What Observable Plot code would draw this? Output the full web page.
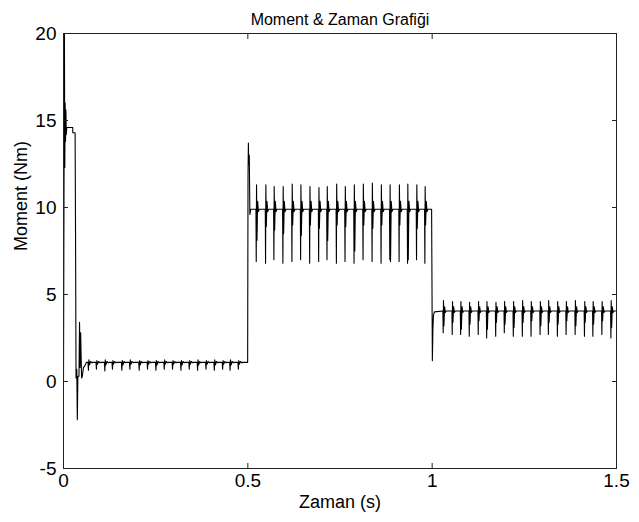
<!DOCTYPE html>
<html><head><meta charset="utf-8">
<script src="https://cdn.jsdelivr.net/npm/d3@7"></script>
<script src="https://cdn.jsdelivr.net/npm/@observablehq/plot@0.6"></script>
<style>body{margin:0;background:#fff;}</style>
</head><body><div id="chart"></div>
<script>
const title = "Moment & Zaman Grafiği";
const xLabel = "Zaman (s)";
const yLabel = "Moment (Nm)";
const xTicks = [0, 0.5, 1, 1.5];
const yTicks = [-5, 0, 5, 10, 15, 20];

// start-up transient
const startT = [0, 0.0025, 0.0035, 0.0045, 0.0055, 0.0065, 0.0075, 0.0090, 0.0250, 0.0252, 0.0315, 0.0328, 0.0340, 0.0360, 0.0375, 0.0390, 0.0420, 0.0435, 0.0450, 0.0465, 0.0490, 0.0510, 0.0540, 0.0580, 0.0620, 0.0660];
const startV = [0, 20, 12.3, 16.0, 13.8, 15.6, 14.2, 14.6, 14.6, 14.3, 14.3, 7.8, 0.2, 0.7, -2.2, 0.3, 0.3, 3.4, 0.8, 2.8, 0.2, 0.3, 0.8, 0.9, 1.1, 1.1];

// phase 1 (light load)
const level1 = 1.1;
const p1Times = [0.0688, 0.0905, 0.1133, 0.1340, 0.1595, 0.1813, 0.2065, 0.2291, 0.2519, 0.2745, 0.2970, 0.3198, 0.3424, 0.3649, 0.3877, 0.4103, 0.4329, 0.4530, 0.4755];
const p1High = [1.25, 1.2, 1.25, 1.2, 1.2, 1.25, 1.2, 1.2, 1.2, 1.25, 1.2, 1.2, 1.2, 1.25, 1.2, 1.25, 1.2, 1.25, 1.2];
const p1Low  = [0.65, 0.7, 0.6, 0.7, 0.65, 0.7, 0.65, 0.7, 0.65, 0.7, 0.7, 0.65, 0.7, 0.65, 0.7, 0.65, 0.7, 0.65, 0.7];
const p1Mid  = [0.95, 1.0, 0.95, 1.0, 0.95, 1.0, 0.95, 1.0, 0.95, 1.0, 1.0, 0.95, 1.0, 0.95, 1.0, 0.95, 1.0, 0.95, 1.0];

// step up at 0.5 s
const step1T = [0.4995, 0.5005, 0.5015, 0.5025, 0.5040, 0.5055, 0.5080];
const step1V = [1.1, 11.8, 13.7, 12.5, 13.0, 9.6, 9.9];

// phase 2 (high load)
const level2 = 9.9;
const p2Times = [0.5236, 0.5489, 0.5715, 0.5959, 0.6204, 0.6440, 0.6685, 0.6929, 0.7155, 0.7410, 0.7644, 0.7889, 0.8133, 0.8378, 0.8622, 0.8859, 0.9111, 0.9340, 0.9584, 0.9810];
const p2High = [11.3, 11.3, 11.2, 11.2, 11.35, 11.3, 11.2, 11.15, 11.2, 11.35, 11.2, 11.3, 11.35, 11.4, 11.3, 11.3, 11.3, 11.35, 11.3, 11.2];
const p2Low  = [6.9, 6.8, 7.0, 6.8, 6.9, 7.0, 6.8, 6.9, 7.0, 6.8, 6.9, 6.8, 7.0, 6.9, 6.8, 7.0, 6.9, 6.8, 7.0, 6.8];
const p2Mid  = [8.1, 8.9, 8.7, 8.5, 9.0, 8.4, 9.0, 8.8, 8.1, 9.0, 8.9, 7.5, 9.0, 8.8, 9.0, 6.9, 9.0, 7.0, 8.8, 9.0];

// step down at 1.0 s
const step2T = [0.9985, 1.0005, 1.0020, 1.0035, 1.0060];
const step2V = [9.9, 1.2, 3.0, 3.8, 4.0];

// phase 3 (medium load)
const level3 = 4.05;
const p3Times = [1.0307, 1.0552, 1.0780, 1.1014, 1.1258, 1.1486, 1.1731, 1.1965, 1.2209, 1.2454, 1.2690, 1.2935, 1.3160, 1.3405, 1.3641, 1.3886, 1.4139, 1.4367, 1.4611, 1.4856];
const p3High = [4.65, 4.6, 4.6, 4.55, 4.6, 4.6, 4.55, 4.6, 4.6, 4.65, 4.6, 4.6, 4.65, 4.6, 4.6, 4.65, 4.6, 4.6, 4.6, 4.65];
const p3Low  = [2.8, 2.7, 2.7, 2.6, 2.7, 2.5, 2.6, 2.8, 2.6, 2.6, 2.6, 2.7, 2.7, 2.6, 2.7, 2.7, 2.6, 2.6, 2.7, 2.5];
const p3Mid  = [3.2, 3.4, 3.0, 3.3, 3.5, 3.0, 3.4, 3.3, 3.1, 3.4, 3.5, 3.2, 3.4, 3.3, 3.5, 3.2, 3.4, 3.3, 3.5, 3.1];
const endT = [1.5];
const endV = [4.05];

// build the polyline from the values above
const pts = [];
const addPairs = (ts, vs) => ts.forEach((t, i) => pts.push({t, v: vs[i]}));
function addSpikes(times, hi, lo, mid, level, bump, w) {
  times.forEach((t, i) => {
    pts.push({t: t - 0.0016 * w, v: level});
    pts.push({t: t - 0.0008 * w, v: lo[i]});
    pts.push({t: t, v: hi[i]});
    pts.push({t: t + 0.0012 * w, v: mid[i]});
    pts.push({t: t + 0.0030 * w, v: level + bump});
    pts.push({t: t + 0.0050 * w, v: level - bump * 0.3});
    pts.push({t: t + 0.0075 * w, v: level});
  });
}
addPairs(startT, startV);
addSpikes(p1Times, p1High, p1Low, p1Mid, level1, 0.05, 1.5);
addPairs(step1T, step1V);
addSpikes(p2Times, p2High, p2Low, p2Mid, level2, 0.45, 1);
addPairs(step2T, step2V);
addSpikes(p3Times, p3High, p3Low, p3Mid, level3, 0.25, 1);
addPairs(endT, endV);

const font = "'Liberation Sans', Arial, Helvetica, sans-serif";
const chart = Plot.plot({
  width: 639, height: 522,
  marginLeft: 63, marginRight: 23, marginTop: 33, marginBottom: 54,
  x: {domain: [0, 1.5]},
  y: {domain: [-5, 20]},
  style: {fontFamily: font, color: "#000", background: "#fff", fontSize: "19px"},
  marks: [
    Plot.line(pts, {x: "t", y: "v", stroke: "#000", strokeWidth: 1.1, clip: true}),
    Plot.frame({stroke: "#222"}),
    Plot.axisX(xTicks, {anchor: "bottom", tickSize: -5, tickPadding: 10, tickFormat: d => `${d}`, label: null, fontSize: 19, stroke: "#222"}),
    Plot.axisX(xTicks, {anchor: "top", tickSize: -5, text: null, label: null, stroke: "#222"}),
    Plot.axisY(yTicks, {anchor: "left", tickSize: -5, tickPadding: 12, tickFormat: d => `${d}`, label: null, fontSize: 19, stroke: "#222"}),
    Plot.axisY(yTicks, {anchor: "right", tickSize: -5, text: null, label: null, stroke: "#222"}),
    Plot.text([title], {frameAnchor: "top", dy: -20, fontSize: 16, fill: "#000"}),
    Plot.text([xLabel], {frameAnchor: "bottom", dy: 39, fontSize: 18, fill: "#000"}),
    Plot.text([yLabel], {frameAnchor: "left", dx: -42, rotate: -90, fontSize: 18, fill: "#000"})
  ]
});
document.getElementById("chart").appendChild(chart);
</script>
</body></html>
